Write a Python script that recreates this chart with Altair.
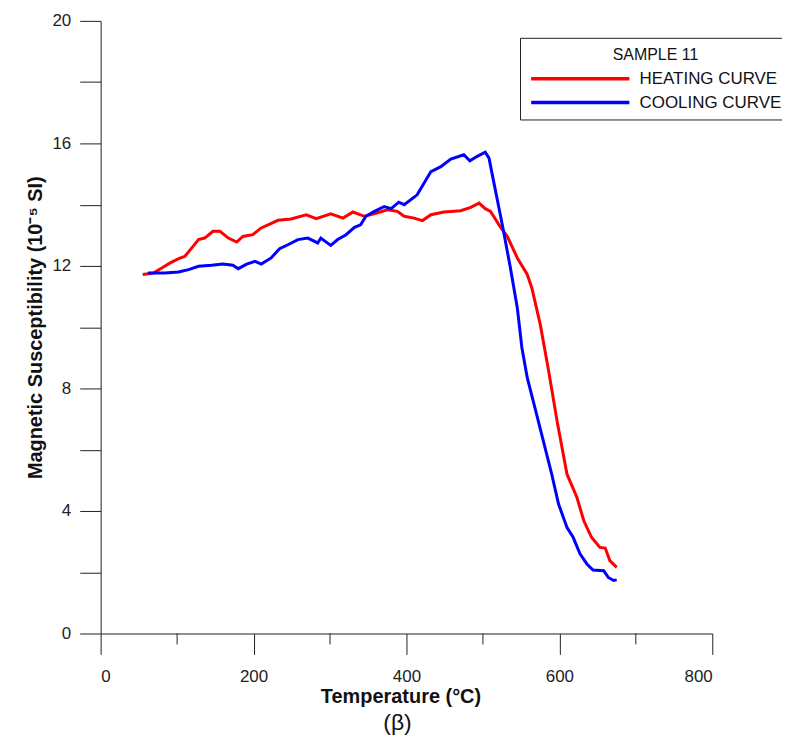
import altair as alt
import pandas as pd

# Heating curve (temperature in °C, susceptibility in 1e-5 SI)
heat_t = [55, 69, 80, 91, 102, 110, 119, 128, 136, 147, 156, 167, 178, 186, 199, 210, 219, 232,
          249, 269, 282, 301, 317, 330, 345, 360, 375, 388, 397, 410, 421, 432, 449, 471, 484,
          495, 503, 510, 514, 521, 532, 545, 558, 564, 575, 586, 597, 610, 623, 632, 642, 653,
          660, 666, 675]
heat_k = [11.72, 11.77, 11.93, 12.10, 12.24, 12.31, 12.58, 12.86, 12.91, 13.13, 13.13, 12.91,
          12.78, 12.96, 13.02, 13.24, 13.34, 13.49, 13.53, 13.67, 13.54, 13.70, 13.56, 13.76,
          13.62, 13.72, 13.83, 13.78, 13.62, 13.56, 13.48, 13.67, 13.76, 13.80, 13.91, 14.05,
          13.87, 13.78, 13.62, 13.34, 12.96, 12.26, 11.72, 11.28, 10.09, 8.57, 6.94, 5.20,
          4.44, 3.68, 3.14, 2.81, 2.79, 2.38, 2.16]

# Cooling curve
cool_t = [62, 84, 102, 115, 128, 145, 160, 173, 180, 191, 202, 210, 223, 234, 245, 258, 271,
          284, 288, 301, 310, 321, 332, 340, 347, 358, 371, 380, 390, 397, 414, 432, 445, 458,
          475, 483, 492, 503, 508, 514, 521, 527, 536, 545, 551, 558, 568, 579, 590, 599, 610,
          618, 627, 636, 644, 658, 664, 671, 675]
cool_k = [11.77, 11.77, 11.80, 11.88, 11.99, 12.02, 12.06, 12.02, 11.91, 12.06, 12.15, 12.06,
          12.26, 12.56, 12.69, 12.86, 12.91, 12.75, 12.91, 12.67, 12.86, 13.02, 13.26, 13.34,
          13.62, 13.78, 13.94, 13.87, 14.08, 14.00, 14.32, 15.08, 15.24, 15.49, 15.63, 15.43,
          15.57, 15.71, 15.52, 14.76, 13.89, 13.13, 11.93, 10.63, 9.33, 8.35, 7.37, 6.29, 5.20,
          4.22, 3.46, 3.14, 2.60, 2.27, 2.07, 2.05, 1.83, 1.73, 1.75]

series_names = ["HEATING CURVE", "COOLING CURVE"]
series_colors = ["#ff0000", "#0000ff"]
x_major = [0, 200, 400, 600, 800]
x_minor = [100, 300, 500, 700]
y_ticks = [0, 2, 4, 6, 8, 10, 12, 14, 16, 18, 20]

heat = pd.DataFrame({"t": heat_t, "k": heat_k, "s": series_names[0], "i": range(len(heat_t))})
cool = pd.DataFrame({"t": cool_t, "k": cool_k, "s": series_names[1], "i": range(len(cool_t))})
minor = pd.DataFrame({"t": x_minor})

FONT = "Liberation Sans"

xscale = alt.Scale(domain=[0, 800], nice=False, zero=False)
yscale = alt.Scale(domain=[0, 20], nice=False, zero=False)

x_enc = alt.X("t:Q", scale=xscale, axis=alt.Axis(
    title="Temperature (°C)", values=x_major, tickSize=21, labelPadding=14,
    titlePadding=2, titleX=301, grid=False))
y_enc = alt.Y("k:Q", scale=yscale, axis=alt.Axis(
    title="Magnetic Susceptibility (10⁻⁵ SI)", values=y_ticks, tickSize=21,
    labelPadding=9, titlePadding=6, grid=False,
    labelExpr="datum.value % 4 == 0 ? datum.label : ''"))

color = alt.Color("s:N", scale=alt.Scale(domain=series_names, range=series_colors),
                  legend=alt.Legend(
                      title="SAMPLE 11", orient="none", legendX=421, legendY=17,
                      direction="vertical", symbolType="stroke", symbolSize=9722,
                      symbolStrokeWidth=3.5, clipHeight=16, rowPadding=7, titlePadding=8,
                      padding=9, strokeColor="#222", fillColor="white",
                      labelFontSize=17, labelFont=FONT, labelColor="#111", labelOffset=8,
                      titleFontSize=16, titleFont=FONT, titleFontWeight="normal",
                      titleColor="#111", titleAnchor="middle", titleAlign="center",
                      labelLimit=300))

heat_line = alt.Chart(heat).mark_line(strokeWidth=3).encode(
    x=x_enc, y=y_enc, color=color, order="i:Q")
cool_line = alt.Chart(cool).mark_line(strokeWidth=3).encode(
    x=x_enc, y=y_enc, color=color, order="i:Q")
minor_ticks = alt.Chart(minor).mark_rule(color="#222", strokeWidth=1).encode(
    x=alt.X("t:Q", scale=xscale), y=alt.value(615), y2=alt.value(626))

chart = alt.layer(heat_line, cool_line, minor_ticks).properties(
    width=614, height=615,
    autosize=alt.AutoSizeParams(type="none"),
    padding={"left": 93, "top": 11.5, "right": 70, "bottom": 105},
    title=alt.TitleParams(text="(β)", orient="bottom", anchor="middle", frame="group",
                          fontSize=23, fontWeight="normal", font=FONT, color="#111",
                          offset=6, dx=-9),
).configure_view(stroke=None).configure_axis(
    domainColor="#222", tickColor="#222", domainWidth=1, tickWidth=1,
    labelFont=FONT, labelFontSize=17, labelColor="#222",
    titleFont=FONT, titleFontSize=20, titleFontWeight="bold", titleColor="#111",
)

chart.save("out.html", embed_options={"renderer": "svg", "actions": False})
